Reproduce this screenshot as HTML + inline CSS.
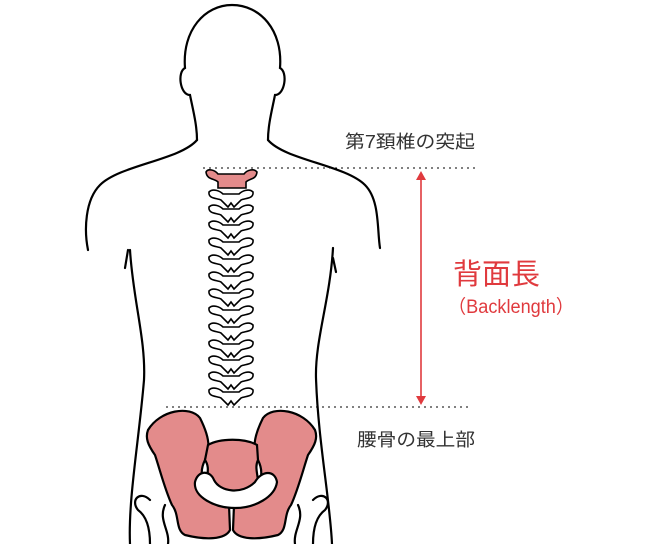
<!DOCTYPE html>
<html><head><meta charset="utf-8"><style>
html,body{margin:0;padding:0;background:#fff;width:650px;height:544px;overflow:hidden}
svg{display:block}
.t{font-family:"Liberation Sans","Noto Sans CJK JP",sans-serif}
</style></head><body>
<svg width="650" height="544" viewBox="0 0 650 544" xmlns="http://www.w3.org/2000/svg">
<defs>
<path id="v" d="M-22,-6 C-18,-10 -11,-7 -8,-4 L8,-4 C11,-7 18,-10 22,-6 C23,1 14,0 10,2 L3,9 L0,5 L-3,9 L-10,2 C-14,0 -23,1 -22,-6 Z"/>
</defs>
<g fill="none" stroke="#000" stroke-width="2.2" stroke-linecap="round">
<path d="M197,140 C197,125 193,110 190,95 C180,95 177,72 185,68 C182,30 205,5 232,5 C260,5 283,30 280,68 C288,72 285,95 275,95 C272,110 268,125 268,140"/>
<path d="M197,140 C180,160 120,165 100,185 C85,200 84,230 88,250"/>
<path d="M268,140 C285,160 345,165 365,185 C380,200 377,230 380,248"/>
<path d="M130,250 C133,300 146,340 144,380 C139,440 128,500 130,544"/>
<path d="M333,248 C330,300 315,340 316,378 C318,440 330,500 332,544"/>
<path d="M128,250 L125,268"/><path d="M333,258 L336,272"/>
<path d="M150,500 C140,490 130,500 138,510 C145,515 150,525 150,544"/>
<path d="M165,505 C158,520 170,530 168,544"/>
<path d="M313,500 C323,490 333,500 325,510 C318,515 313,525 313,544"/>
<path d="M298,505 C305,520 293,530 295,544"/>
</g>
<g fill="#fff" stroke="#000" stroke-width="1.6">
<use href="#v" x="231" y="198"/><use href="#v" x="231" y="213"/><use href="#v" x="231" y="229"/>
<use href="#v" x="231" y="246"/><use href="#v" x="231" y="263"/><use href="#v" x="231" y="280"/>
<use href="#v" x="231" y="297"/><use href="#v" x="231" y="314"/><use href="#v" x="231" y="331"/>
<use href="#v" x="231" y="348"/><use href="#v" x="231" y="364"/><use href="#v" x="231" y="380"/>
<use href="#v" x="231" y="396"/>
</g>
<path d="M206,172 C208,168 215,170 218,174 L244,174 C247,170 254,168 257,172 C256,180 250,178 246,182 L246,188 L218,188 L218,182 C214,178 207,180 206,172 Z" fill="#e38b8b" stroke="#000" stroke-width="1.6"/>
<g fill="#e38b8b" stroke="#000" stroke-width="2.2">
<path id="il" d="M148,430 C160,410 190,405 200,418 C205,428 210,440 208,450 L205,460 C200,470 200,480 210,492 C215,505 225,510 229,505 L230,530 C225,540 205,540 185,535 C175,530 180,515 172,505 C165,490 160,470 155,455 C148,445 145,438 148,430 Z"/>
<use href="#il" transform="translate(463,0) scale(-1,1)"/>
<path d="M208,445 C220,438 245,438 257,445 L258,460 C253,470 262,480 255,490 L245,500 L220,500 L210,490 C203,480 212,470 205,460 Z"/>
</g>
<path d="M195,482 C198,470 210,470 214,480 C220,492 242,495 255,482 C262,470 275,470 277,482 C275,497 255,508 235,508 C215,508 193,497 195,482 Z" fill="#fff" stroke="#000" stroke-width="2.2"/>
<g stroke="#000" stroke-width="1" stroke-dasharray="2,4">
<line x1="203" y1="168" x2="478" y2="168"/>
<line x1="166" y1="407" x2="472" y2="407"/>
</g>
<line x1="421" y1="178" x2="421" y2="397" stroke="#e03a3e" stroke-width="1.6"/>
<path d="M421,171 L416,180 L426,180 Z M421,405 L416,396 L426,396 Z" fill="#e03a3e"/>
<text class="t" x="345" y="148" font-size="18" fill="#333" textLength="130" lengthAdjust="spacingAndGlyphs">第7頚椎の突起</text>
<text class="t" x="357" y="446" font-size="18" fill="#333" textLength="118" lengthAdjust="spacingAndGlyphs">腰骨の最上部</text>
<text class="t" x="453" y="284" font-size="29" fill="#e03a3e" textLength="87" lengthAdjust="spacingAndGlyphs">背面長</text>
<text class="t" x="448" y="313" font-size="19" fill="#e03a3e" textLength="126" lengthAdjust="spacingAndGlyphs">（Backlength）</text>
</svg>
</body></html>
